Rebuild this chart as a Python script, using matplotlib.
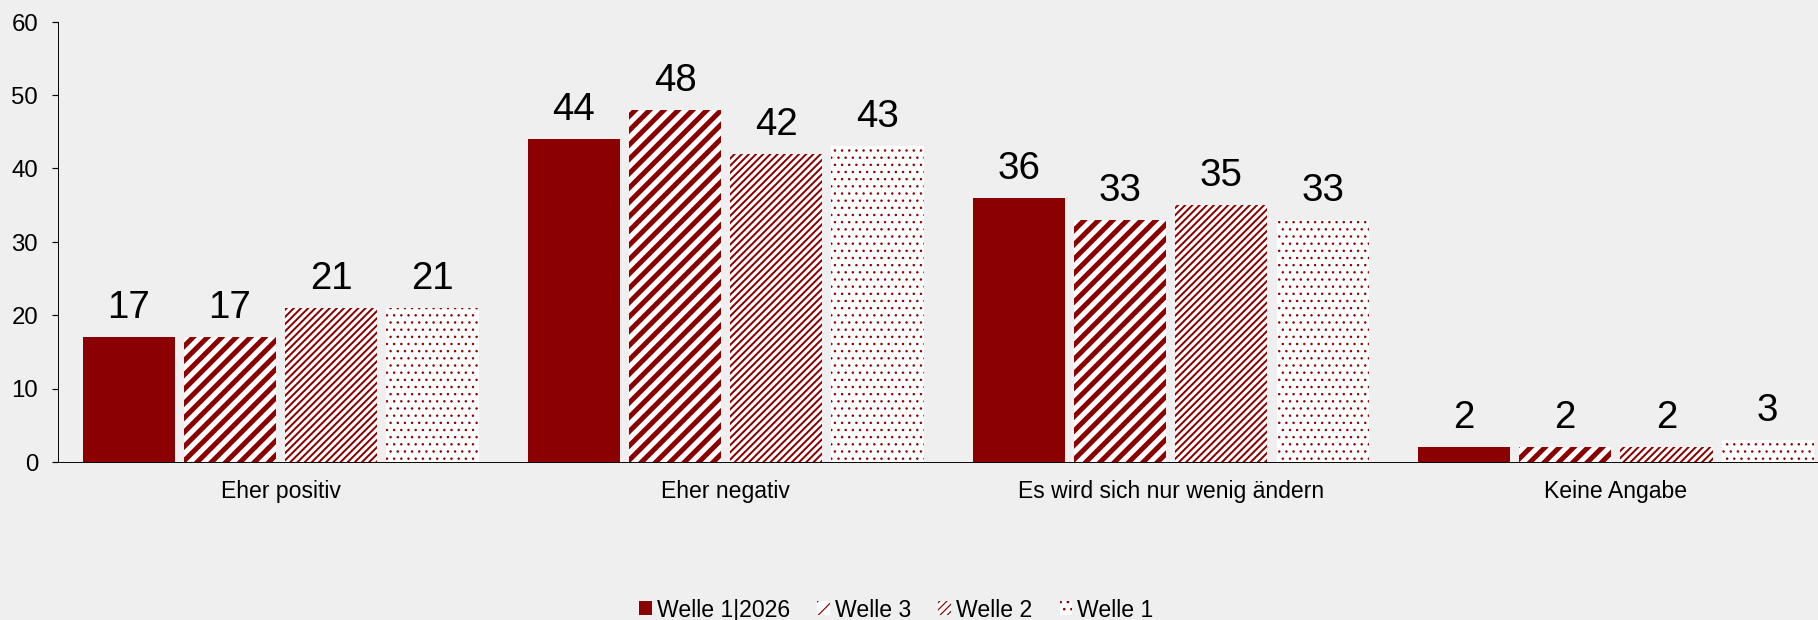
import numpy as np
import matplotlib as mpl
import matplotlib.pyplot as plt

# Daten
categories = ["Eher positiv", "Eher negativ", "Es wird sich nur wenig ändern", "Keine Angabe"]
series_names = ["Welle 1|2026", "Welle 3", "Welle 2", "Welle 1"]
welle_2026 = [17, 44, 36, 2]
welle_3 = [17, 48, 33, 2]
welle_2 = [21, 42, 35, 2]
welle_1 = [21, 43, 33, 3]
y_ticks = [0, 10, 20, 30, 40, 50, 60]

DPI = 86


def px(v):
    # Pixel -> Punkte
    return v * 72 / DPI


RED = "#8b0000"
BG = "#efefef"

plt.rcParams["font.family"] = ["Liberation Sans", "DejaVu Sans"]

fig = plt.figure(figsize=(1818.4 / DPI, 620.4 / DPI), dpi=DPI, facecolor=BG)
ax = fig.add_axes([58 / 1818, 158 / 620, 1 - 58 / 1818, 440 / 620])
ax.set_facecolor(BG)

x = np.arange(len(categories))
step = 0.2275
width = 0.207

# Füllung, Schraffur, Schraffur-Linienbreite (in Pixeln)
styles = [
    ("#8b0000", None, 1.0),
    ("white", "//", 5.0),
    ("white", "////", 2.0),
    ("white", "..", 1.0),
]
series = [welle_2026, welle_3, welle_2, welle_1]

for i, (vals, name, (fc, hatch, hlw)) in enumerate(zip(series, series_names, styles)):
    with plt.rc_context({"hatch.linewidth": px(hlw), "hatch.color": RED}):
        bars = ax.bar(x + (i - 1.5) * step, vals, width, color=fc, edgecolor=RED,
                      linewidth=0, hatch=hatch, label=name)
    for b in bars:
        if hasattr(b, "set_hatch_linewidth"):
            b.set_hatch_linewidth(px(hlw))
    # Werte über den Balken
    for b, v in zip(bars, vals):
        ax.annotate(f"{v}", (b.get_x() + b.get_width() / 2, v),
                    xytext=(0, px(19.5)), textcoords="offset points",
                    ha="center", va="baseline", fontsize=px(38.5), color="black")

ax.set_xlim(-0.5, 3.5 - 20 / 445)
ax.set_ylim(0, 60)
ax.set_yticks(y_ticks)
ax.set_xticks(x)
ax.set_xticklabels(categories)
ax.tick_params(axis="x", length=0, pad=px(18), labelsize=px(23))
ax.tick_params(axis="y", length=px(6), width=1, pad=px(14), labelsize=px(24))
for s in ["top", "right"]:
    ax.spines[s].set_visible(False)
ax.spines["left"].set_color("black")
ax.spines["bottom"].set_color("black")

handles, labels = ax.get_legend_handles_labels()
fig.legend(handles, labels, loc="center", bbox_to_anchor=(896 / 1818, 10 / 620),
           ncol=4, frameon=False, fontsize=px(23), handlelength=0.55,
           handleheight=0.55, handletextpad=0.2, columnspacing=1.2,
           borderpad=0, borderaxespad=0)

fig.savefig("out.png", dpi=DPI, facecolor=BG)
